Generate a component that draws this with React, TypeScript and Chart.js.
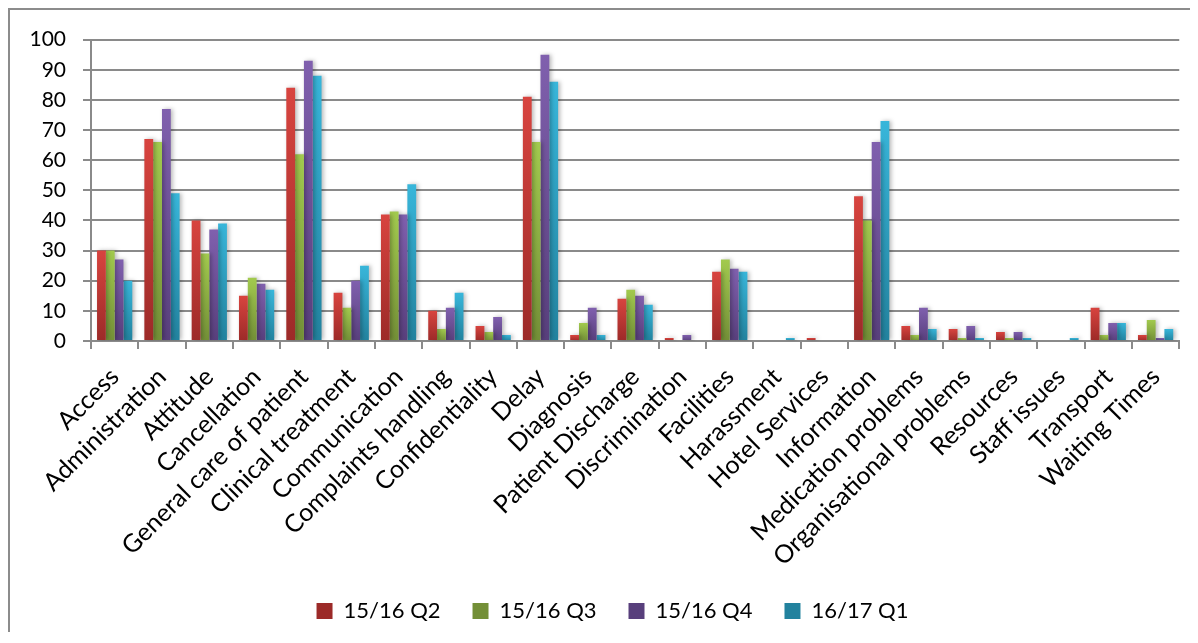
import React, { useEffect, useRef } from "react";
import { Chart, registerables } from "chart.js";

Chart.register(...registerables);

// Complaint subjects, one group of four quarterly bars each
const categories = [
  "Access",
  "Administration",
  "Attitude",
  "Cancellation",
  "General care of patient",
  "Clinical treatment",
  "Communication",
  "Complaints handling",
  "Confidentiality",
  "Delay",
  "Diagnosis",
  "Patient Discharge",
  "Discrimination",
  "Facilities",
  "Harassment",
  "Hotel Services",
  "Information",
  "Medication problems",
  "Organisational problems",
  "Resources",
  "Staff issues",
  "Transport",
  "Waiting Times",
];

const seriesNames = ["15/16 Q2", "15/16 Q3", "15/16 Q4", "16/17 Q1"];

const q2_1516 = [30, 67, 40, 15, 84, 16, 42, 10, 5, 81, 2, 14, 1, 23, 0, 1, 48, 5, 4, 3, 0, 11, 2];
const q3_1516 = [30, 66, 29, 21, 62, 11, 43, 4, 3, 66, 6, 17, 0, 27, 0, 0, 40, 2, 1, 1, 0, 2, 7];
const q4_1516 = [27, 77, 37, 19, 93, 20, 42, 11, 8, 95, 11, 15, 2, 24, 0, 0, 66, 11, 5, 3, 0, 6, 1];
const q1_1617 = [20, 49, 39, 17, 88, 25, 52, 16, 2, 86, 2, 12, 0, 23, 1, 0, 73, 4, 1, 1, 1, 6, 4];

const yTicks = [0, 10, 20, 30, 40, 50, 60, 70, 80, 90, 100];

// top / mid / bottom shades for each series
const palettes = [
  ["#d8443f", "#bf3834", "#9c2a28"],
  ["#a2ca4e", "#8cb043", "#738f37"],
  ["#8060ae", "#6e5197", "#583f7c"],
  ["#38b6da", "#2ea0c2", "#22829e"],
];

const FONT = "Lato, 'Open Sans', 'Liberation Sans', sans-serif";
const GRID = "#8a8a8a";

// vertical gradient per bar, lighter at the top
function barFill(top: string, mid: string, bottom: string) {
  return (ctx: any) => {
    if (ctx.type !== "data") return mid;
    const chart = ctx.chart;
    const y = chart.scales && chart.scales.y;
    const v = ctx.parsed ? ctx.parsed.y : ctx.raw;
    if (!y || v == null) return mid;
    const y0 = y.getPixelForValue(0);
    const y1 = y.getPixelForValue(v);
    if (!isFinite(y0) || !isFinite(y1) || Math.abs(y0 - y1) < 0.5) return mid;
    const g = chart.ctx.createLinearGradient(0, y1, 0, y0);
    g.addColorStop(0, top);
    g.addColorStop(1, bottom);
    return g;
  };
}

// soft drop shadow behind the bars
const barShadow = {
  id: "barShadow",
  beforeDatasetsDraw(chart: any) {
    const c = chart.ctx;
    c.save();
    c.shadowColor = "rgba(0,0,0,0.28)";
    c.shadowBlur = 4;
    c.shadowOffsetX = 2;
    c.shadowOffsetY = 0;
  },
  afterDatasetsDraw(chart: any) {
    chart.ctx.restore();
  },
};

// nudge the legend row sideways from the canvas centre
const legendShift = {
  id: "legendShift",
  afterLayout(chart: any, _args: any, opts: any) {
    const lg = chart.legend;
    if (!lg) return;
    const dx = (opts && opts.dx) || 0;
    lg.left += dx;
    lg.right += dx;
  },
};

export default function App() {
  const canvasRef = useRef<HTMLCanvasElement | null>(null);

  useEffect(() => {
    if (!canvasRef.current) return;
    const all = [q2_1516, q3_1516, q4_1516, q1_1617];
    const chart = new Chart(canvasRef.current, {
      type: "bar",
      data: {
        labels: categories,
        datasets: all.map((d, i) => ({
          label: seriesNames[i],
          data: d,
          backgroundColor: barFill(palettes[i][0], palettes[i][1], palettes[i][2]),
          borderWidth: 0,
          categoryPercentage: 0.745,
          barPercentage: 1,
        })),
      },
      options: {
        animation: false,
        responsive: true,
        maintainAspectRatio: false,
        layout: { padding: { left: 0, right: 9, top: 29, bottom: 0 } },
        plugins: {
          tooltip: { enabled: false },
          legendShift: { dx: 17 },
          legend: {
            position: "bottom",
            align: "center",
            labels: {
              color: "#000",
              font: { family: FONT, size: 22 },
              boxWidth: 16,
              boxHeight: 16,
              padding: 32,
            },
          },
        } as any,
        scales: {
          x: {
            offset: true,
            grid: {
              offset: true,
              drawOnChartArea: false,
              drawTicks: true,
              tickLength: 8,
              color: GRID,
              lineWidth: 2,
            },
            border: { display: true, color: GRID, width: 2 },
            ticks: {
              autoSkip: false,
              minRotation: 45,
              maxRotation: 45,
              padding: 13,
              color: "#000",
              font: { family: FONT, size: 25 },
            },
            afterFit(scale: any) {
              scale.height = 227;
            },
          },
          y: {
            min: 0,
            max: 100,
            afterBuildTicks(scale: any) {
              scale.ticks = yTicks.map((v) => ({ value: v }));
            },
            grid: {
              color: GRID,
              lineWidth: 2,
              drawTicks: true,
              tickLength: 8,
            },
            border: { display: true, color: GRID, width: 2 },
            ticks: {
              padding: 17,
              color: "#000",
              font: { family: FONT, size: 21 },
            },
            afterFit(scale: any) {
              scale.width = 81;
            },
          },
        },
      },
      plugins: [barShadow, legendShift],
    });
    return () => chart.destroy();
  }, []);

  return (
    <div
      style={{
        position: "relative",
        width: 1180,
        height: 622,
        borderTop: "2px solid #8c8c8c",
        borderLeft: "2px solid #8c8c8c",
        background: "#fff",
      }}
    >
      <canvas ref={canvasRef} />
    </div>
  );
}
